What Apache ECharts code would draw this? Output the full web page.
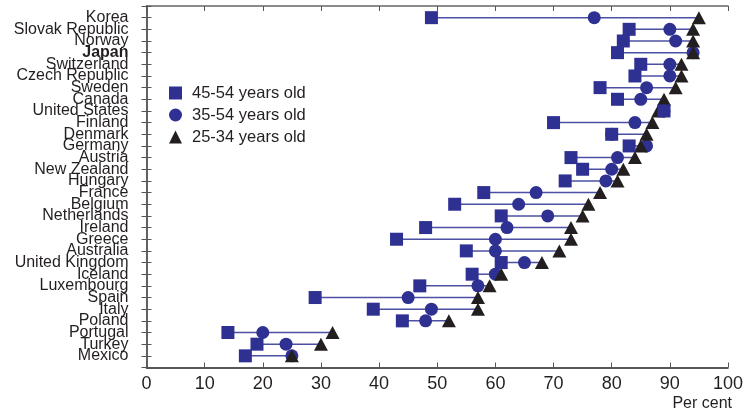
<!DOCTYPE html>
<html>
<head>
<meta charset="utf-8">
<script src="https://cdn.jsdelivr.net/npm/echarts@6/dist/echarts.min.js"></script>
<style>html,body{margin:0;padding:0;background:#fff}#c{width:746px;height:413px}</style>
</head>
<body>
<div id="c"></div>
<script>
var countries = ["Korea","Slovak Republic","Norway","Japan","Switzerland","Czech Republic","Sweden","Canada","United States","Finland","Denmark","Germany","Austria","New Zealand","Hungary","France","Belgium","Netherlands","Ireland","Greece","Australia","United Kingdom","Iceland","Luxembourg","Spain","Italy","Poland","Portugal","Turkey","Mexico"];
var age4554 = [49,83,82,81,85,84,78,81,89,70,80,83,73,75,72,58,53,61,48,43,55,61,56,47,29,39,44,14,19,17];
var age3554 = [77,90,91,94,90,90,86,85,89,84,80,86,81,80,79,67,64,69,62,60,60,65,60,57,45,49,48,20,24,25];
var age2534 = [95,94,94,94,92,92,91,89,88,87,86,85,84,82,81,78,76,75,73,73,71,68,61,59,57,57,52,32,30,25];
var xTicks = [0,10,20,30,40,50,60,70,80,90,100];
var seriesNames = ["45-54 years old","35-54 years old","25-34 years old"];

var cats = [""].concat(countries).concat([""]);
function pts(arr){ return arr.map(function(v,i){ return [v, i+1]; }); }
var rangeData = countries.map(function(c,i){
  return [Math.min(age4554[i],age3554[i],age2534[i]), Math.max(age4554[i],age3554[i],age2534[i]), i+1];
});
var FONT = "Liberation Sans, Arial, sans-serif";
var INK = "#231f20";
var BLUE = "#2e3192";

var chart = echarts.init(document.getElementById('c'), null, {renderer:'canvas'});
chart.setOption({
  animation:false,
  textStyle:{fontFamily:FONT},
  grid:{left:146.5, right:17, top:6, bottom:45.5, containLabel:false},
  legend:{
    orient:'vertical', left:164, top:79.5, padding:5, itemWidth:13, itemHeight:13, itemGap:5,
    data:seriesNames,
    textStyle:{fontFamily:FONT, fontSize:16.5, lineHeight:13, color:INK, padding:[0,0,0,5]}
  },
  xAxis:[{
    type:'value', min:0, max:100, interval:10, position:'bottom',
    axisLine:{show:true, lineStyle:{color:INK, width:1.5}},
    axisTick:{show:true, inside:true, length:5, lineStyle:{color:'#555'}},
    splitLine:{show:false},
    axisLabel:{fontFamily:FONT, fontSize:18, color:INK, margin:8,
      formatter:function(v){ return xTicks.indexOf(v)>=0 ? String(v) : ''; }}
  },{
    type:'value', min:0, max:100, interval:10, position:'top',
    axisLine:{show:true, lineStyle:{color:'#666', width:1.5}},
    axisTick:{show:true, inside:true, length:5, lineStyle:{color:'#555'}},
    splitLine:{show:false}, axisLabel:{show:false}
  }],
  yAxis:[{
    type:'category', data:cats, inverse:true, boundaryGap:false, position:'left',
    axisLine:{show:true, lineStyle:{color:INK, width:1.5}},
    axisTick:{show:true, inside:true, length:5, interval:0, lineStyle:{color:'#555'}},
    axisLabel:{interval:0, margin:18, fontFamily:FONT, fontSize:16, color:INK,
      formatter:function(v){ return v==='Japan' ? '{b|'+v+'}' : v; },
      rich:{b:{fontFamily:FONT, fontSize:16, fontWeight:'bold', color:INK}}}
  },{
    type:'category', data:cats, inverse:true, boundaryGap:false, position:'right',
    axisLine:{show:true, lineStyle:{color:'#666', width:1.5}},
    axisTick:{show:true, inside:true, length:5, interval:0, lineStyle:{color:'#555'}},
    axisLabel:{show:false}
  }],
  graphic:[{
    type:'text', right:14, top:396,
    style:{text:'Per cent', fontFamily:FONT, fontSize:16, fill:INK}
  }],
  series:[{
    type:'custom', data:rangeData, z:1, silent:true,
    renderItem:function(params, api){
      var a = api.coord([api.value(0), api.value(2)]);
      var b = api.coord([api.value(1), api.value(2)]);
      return {type:'line', shape:{x1:a[0],y1:a[1],x2:b[0],y2:b[1]},
        style:{stroke:'#4b50a2', lineWidth:1.5}};
    },
    encode:{x:[0,1], y:2}
  },{
    name:seriesNames[1], type:'scatter', symbol:'circle', symbolSize:13, z:2,
    itemStyle:{color:BLUE, opacity:1}, data:pts(age3554)
  },{
    name:seriesNames[2], type:'scatter', symbol:'triangle', symbolSize:[14,13], z:3,
    itemStyle:{color:INK, opacity:1}, data:pts(age2534)
  },{
    name:seriesNames[0], type:'scatter', symbol:'rect', symbolSize:13, z:4,
    itemStyle:{color:BLUE, opacity:1}, data:pts(age4554)
  }]
});
</script>
</body>
</html>
